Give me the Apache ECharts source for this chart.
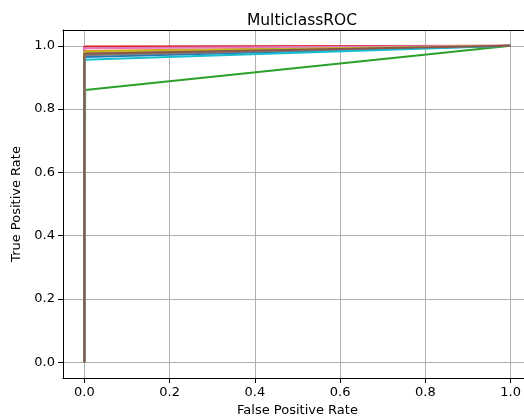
<!DOCTYPE html>
<html>
<head>
<meta charset="utf-8">
<script src="https://cdn.jsdelivr.net/npm/echarts@6/dist/echarts.min.js"></script>
<style>html,body{margin:0;padding:0;background:#fff}#c{width:524px;height:420px}</style>
</head>
<body>
<div id="c"></div>
<script>
// class curves: each ROC goes (0,0) -> (fpr, tpr) -> (1,1)
const classNames = ['class 0','class 1','class 2','class 3','class 4','class 6','class 7','class 8','class 9','class 5'];
const classColors = ['#1f77b4','#ff7f0e','#2ca02c','#d62728','#9467bd','#e377c2','#7f7f7f','#bcbd22','#17becf','#8c564b'];
const classFpr = [0.0, 0.0, 0.002, 0.0, 0.0, 0.0, 0.0, 0.0, 0.0, 0.0];
const classTpr = [0.965, 0.984, 0.86, 0.998, 0.978, 0.992, 0.97, 0.981, 0.956, 0.975];
const xTicks = [0.0, 0.2, 0.4, 0.6, 0.8, 1.0];
const yTicks = [0.0, 0.2, 0.4, 0.6, 0.8, 1.0];
const titleText = 'MulticlassROC';
const xName = 'False Positive Rate';
const yName = 'True Positive Rate';

const FONT = 'DejaVu Sans';
const chart = echarts.init(document.getElementById('c'), null, {renderer: 'canvas'});
const series = classNames.map((n, i) => ({
  name: n,
  type: 'line',
  xAxisIndex: 0,
  data: [[0, 0], [classFpr[i], classTpr[i]], [1, 1]],
  showSymbol: false,
  symbol: 'none',
  lineStyle: {color: classColors[i], width: 2},
  itemStyle: {color: classColors[i]},
  clip: true,
  animation: false,
  z: 3
}));
const axisCommon = {
  type: 'value',
  min: -0.05,
  max: 1.05,
  axisLine: {show: true, onZero: false, lineStyle: {color: '#000', width: 1}},
  axisTick: {show: true, inside: false, length: 5, lineStyle: {color: '#000', width: 1}},
  splitLine: {show: true, lineStyle: {color: '#b0b0b0', width: 1}},
  nameLocation: 'middle',
  nameTextStyle: {fontFamily: FONT, fontSize: 13, color: '#000'}
};
chart.setOption({
  animation: false,
  backgroundColor: '#fff',
  title: {
    text: titleText,
    left: 297, top: 8, textAlign: 'center',
    textStyle: {fontFamily: FONT, fontSize: 15.5, fontWeight: 'normal', color: '#000'}
  },
  grid: {left: 63, top: 30, width: 469, height: 348, outerBoundsMode: 'none', containLabel: false, show: false},
  xAxis: [
    Object.assign({}, axisCommon, {
      position: 'bottom',
      name: xName, nameGap: 25,
      axisTick: Object.assign({}, axisCommon.axisTick, {customValues: xTicks}),
      axisLabel: {customValues: xTicks, formatter: v => v.toFixed(1), fontFamily: FONT, fontSize: 13, color: '#000', margin: 8}
    }),
    {
      type: 'value', position: 'top', min: -0.05, max: 1.05,
      axisLine: {show: true, onZero: false, lineStyle: {color: '#000', width: 1}},
      axisTick: {show: false}, axisLabel: {show: false}, splitLine: {show: false}
    }
  ],
  yAxis: Object.assign({}, axisCommon, {
    name: yName, nameGap: 40,
    axisTick: Object.assign({}, axisCommon.axisTick, {customValues: yTicks}),
    axisLabel: {customValues: yTicks, formatter: v => v.toFixed(1), fontFamily: FONT, fontSize: 13, color: '#000', margin: 8}
  }),
  series: series
});
</script>
</body>
</html>
